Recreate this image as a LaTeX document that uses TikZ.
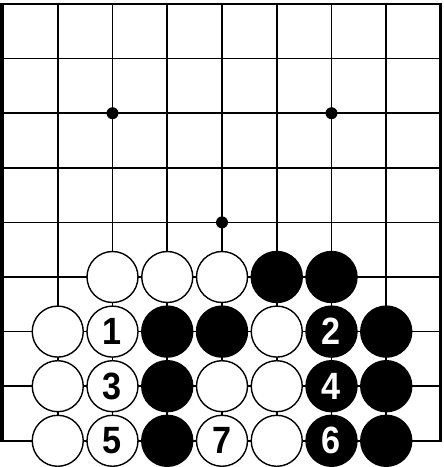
\documentclass[tikz,border=0pt]{standalone}
\usepackage{fontspec}
\setmainfont{Liberation Sans}
\tikzset{
  gridline/.style={line width=1.7pt},
  stone/.style={circle, minimum size=51pt, inner sep=0pt, line width=1.4pt, draw=black,
    font=\bfseries\fontsize{38}{38}\selectfont},
  wstone/.style={stone, fill=white, text=black},
  bstone/.style={stone, fill=black, text=white},
  hoshi/.style={circle, fill=black, minimum size=12pt, inner sep=0pt},
}
\begin{document}
\begin{tikzpicture}[x=1pt,y=1pt]
  \useasboundingbox (0,0) rectangle (444,467);
  % grid lines
  \foreach \i in {1,...,7} {
    \draw[gridline] ({3+54.75*\i},463) -- ({3+54.75*\i},26);
  }
  \foreach \j in {1,...,7} {
    \draw[gridline] (3,{463-54.6*\j}) -- (441,{463-54.6*\j});
  }
  % borders
  \draw[line width=4pt] (2,464) -- (2,25);
  \draw[line width=2.2pt] (0,463) -- (442,463);
  \draw[line width=3pt] (440.5,464) -- (440.5,25);
  \draw[line width=2.2pt] (0,26) -- (442,26);
  % star points
  \node[hoshi] (h1) at ({3+54.75*2},{463-54.6*2}) {};
  \node[hoshi] (h2) at ({3+54.75*6},{463-54.6*2}) {};
  \node[hoshi] (h3) at ({3+54.75*4},{463-54.6*4}) {};
  % stones
  \foreach \i/\j/\c/\t in {
    2/5/w/, 3/5/w/, 4/5/w/, 5/5/b/, 6/5/b/,
    1/6/w/, 2/6/w/1, 3/6/b/, 4/6/b/, 5/6/w/, 6/6/b/2, 7/6/b/,
    1/7/w/, 2/7/w/3, 3/7/b/, 4/7/w/, 5/7/w/, 6/7/b/4, 7/7/b/,
    1/8/w/, 2/8/w/5, 3/8/b/, 4/8/w/7, 5/8/w/, 6/8/b/6, 7/8/b/} {
    \node[\c stone] (s-\i-\j) at ({3+54.75*\i},{463-54.6*\j}) {\scalebox{0.9}[1]{\t}};
  }
\end{tikzpicture}
\end{document}
